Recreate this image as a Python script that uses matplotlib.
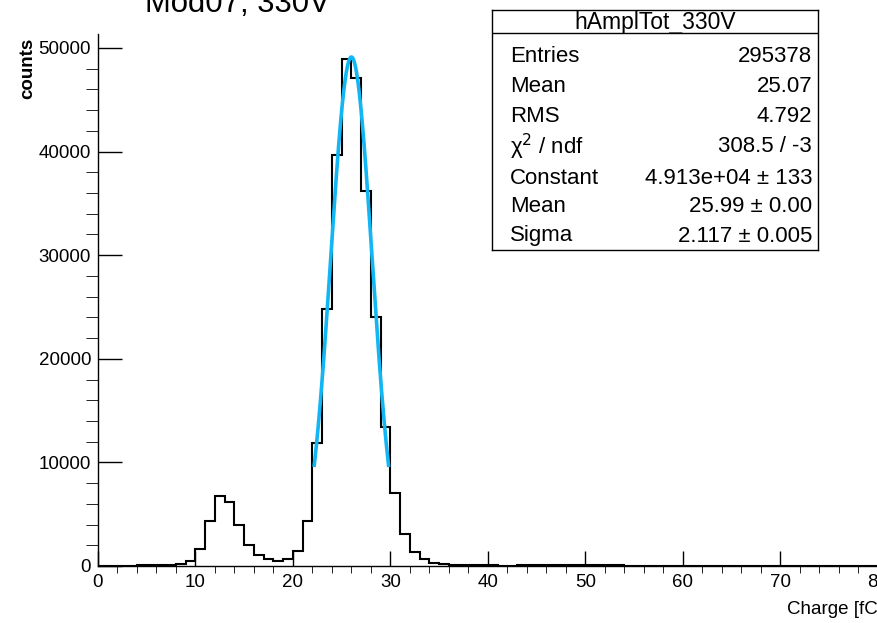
import numpy as np
import matplotlib
matplotlib.use("Agg")
import matplotlib.pyplot as plt
from matplotlib.ticker import MultipleLocator

plt.rcParams["font.family"] = ["Liberation Sans", "DejaVu Sans"]

# histogram contents, 1 fC bins starting at 0
counts = [
    20, 20, 30, 40, 50, 80, 90, 100, 150, 480,            # 0-9
    1640, 4340, 6760, 6180, 3930, 2060, 1090, 650, 480, 650,  # 10-19
    1480, 4340, 11900, 24800, 39670, 48940, 47130, 36200, 24030, 13450,  # 20-29
    7020, 3120, 1350, 650, 320, 160, 110, 80, 60, 50,     # 30-39
    50, 40, 40, 50, 60, 80, 100, 120, 130, 130,           # 40-49
    120, 100, 80, 60, 40, 30, 20, 15, 10, 8,              # 50-59
    5, 5, 4, 4, 3, 3, 2, 2, 2, 1,                         # 60-69
    1, 1, 1, 1, 1, 0, 0, 0, 0, 0,                         # 70-79
    0, 0, 0, 0, 0, 0, 0, 0, 0, 0,                         # 80-89
]
bin_edges = np.arange(len(counts) + 1)

fit_const = 4.913e4
fit_mean = 25.99
fit_sigma = 2.117
fit_range = (22.18, 29.8)

stat_names = ["Entries", "Mean", "RMS", "χ$^{2}$ / ndf", "Constant", "Mean", "Sigma"]
stat_values = ["295378", "25.07", "4.792", "308.5 / -3",
               "4.913e+04 ± 133", "25.99 ± 0.00", "2.117 ± 0.005"]

W, H = 878, 623
fig = plt.figure(figsize=(W / 100, H / 100), dpi=100)

x0, x1 = 98, 98 + 90 * 9.75
y0, y1 = 566, 34
ax = fig.add_axes([x0 / W, 1 - y0 / H, (x1 - x0) / W, (y0 - y1) / H])

ax.stairs(counts, bin_edges, color="black", lw=1.5)
xf = np.linspace(*fit_range, 300)
ax.plot(xf, fit_const * np.exp(-0.5 * ((xf - fit_mean) / fit_sigma) ** 2),
        color="#12B6F2", lw=2.6)

ax.set_xlim(0, 90)
ax.set_ylim(0, 51350)
for s in ("top", "right"):
    ax.spines[s].set_visible(False)
ax.spines["left"].set_linewidth(1.0)
ax.spines["bottom"].set_linewidth(1.0)

ax.xaxis.set_major_locator(MultipleLocator(10))
ax.xaxis.set_minor_locator(MultipleLocator(2))
ax.yaxis.set_major_locator(MultipleLocator(10000))
ax.yaxis.set_minor_locator(MultipleLocator(2000))
ax.tick_params(direction="in", labelsize=13.5, width=1.0)
ax.tick_params(axis="x", which="major", length=10.8, pad=6)
ax.tick_params(axis="x", which="minor", length=5)
ax.tick_params(axis="y", which="major", length=17, pad=5)
ax.tick_params(axis="y", which="minor", length=8.6)

fig.text(145 / W, 1 - 12 / H, "Mod07, 330V", fontsize=22.4, va="baseline", ha="left")
fig.text(28 / W, 1 - 38 / H, "counts", rotation=90, ha="center", va="top",
         fontsize=13.5, fontweight="bold")
fig.text(787 / W, 1 - 614 / H, "Charge [fC]", fontsize=13.5, va="baseline", ha="left")

# stats box, drawn in pixel coordinates
bx0, bx1, by0, by1 = 492, 818, 10, 250
box = fig.add_axes([bx0 / W, 1 - by1 / H, (bx1 - bx0) / W, (by1 - by0) / H])
box.set_xlim(bx0, bx1)
box.set_ylim(by1, by0)
box.set_xticks([])
box.set_yticks([])
for s in box.spines.values():
    s.set_linewidth(1.0)
box.axhline(33, color="black", lw=1.0)
box.text((bx0 + bx1) / 2, 22, "hAmplTot_330V", ha="center", va="center", fontsize=16.5)
row_y = [57, 86, 117, 147, 178, 207, 236]
for name, val, yy in zip(stat_names, stat_values, row_y):
    box.text(510, yy, name, ha="left", va="center", fontsize=16)
    box.text(812, yy, val, ha="right", va="center", fontsize=16)

fig.savefig("out.png", dpi=100)
